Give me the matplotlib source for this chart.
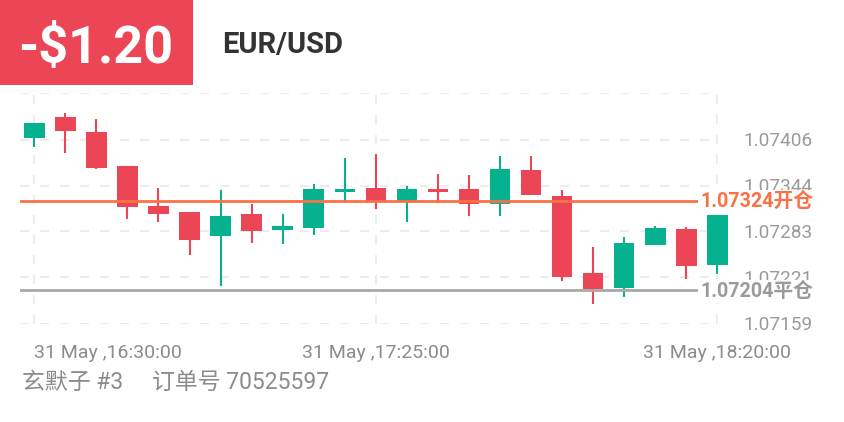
import matplotlib
matplotlib.use("Agg")
import matplotlib.pyplot as plt
import matplotlib.transforms as mtransforms
from matplotlib.patches import Rectangle

# ---- data (5-minute candles, 16:30 .. 18:20) ----
opens = [1.07408, 1.07436, 1.07416, 1.07370, 1.07317, 1.07309, 1.07277, 1.07306,
         1.07284, 1.07287, 1.07336, 1.07341, 1.07324, 1.07339, 1.07339, 1.07319,
         1.07365, 1.07330, 1.07227, 1.07207, 1.07265, 1.07286, 1.07238]
closes = [1.07428, 1.07417, 1.07368, 1.07316, 1.07306, 1.07271, 1.07303, 1.07283,
          1.07290, 1.07339, 1.07340, 1.07323, 1.07340, 1.07336, 1.07320, 1.07366,
          1.07331, 1.07221, 1.07205, 1.07267, 1.07287, 1.07237, 1.07305]
highs = [1.07428, 1.07441, 1.07433, 1.07370, 1.07341, 1.07309, 1.07338, 1.07319,
         1.07306, 1.07347, 1.07381, 1.07387, 1.07344, 1.07360, 1.07358, 1.07384,
         1.07384, 1.07338, 1.07262, 1.07275, 1.07290, 1.07289, 1.07305]
lows = [1.07396, 1.07388, 1.07367, 1.07299, 1.07295, 1.07251, 1.07210, 1.07267,
        1.07266, 1.07278, 1.07324, 1.07313, 1.07295, 1.07321, 1.07304, 1.07304,
        1.07331, 1.07216, 1.07185, 1.07195, 1.07264, 1.07219, 1.07225]

price_ticks = [1.07159, 1.07221, 1.07283, 1.07344, 1.07406, 1.07468]
price_labels = ["1.07159", "1.07221", "1.07283", "1.07344", "1.07406", ""]
time_idx = [0, 11, 22]
time_labels = ["31 May ,16:30:00", "31 May ,17:25:00", "31 May ,18:20:00"]

open_price = 1.07324
close_price = 1.07204
profit = "-$1.20"
symbol = "EUR/USD"
account = "玄默子 #3"
order = "订单号 70525597"

GREEN = "#05b18f"
RED = "#ec4656"
ORANGE = "#fb7146"
GRAY_LINE = "#a8a8a8"
GRID = "#ececec"
FONTS = ["Roboto", "Noto Sans CJK SC", "DejaVu Sans"]

W, H = 844, 422
fig = plt.figure(figsize=(W / 100, H / 100), dpi=100)


def fx(px):
    return px / W


def fy(py):
    return 1 - py / H


ax = fig.add_axes([fx(20), fy(323.7), fx(698), (323.7 - 93.3) / H])
ax.set_xlim(-0.4605, 22.02)
ax.set_ylim(price_ticks[0], price_ticks[-1])
for s in ax.spines.values():
    s.set_visible(False)
ax.set_yticks(price_ticks)
ax.set_xticks(time_idx)
ax.tick_params(length=0, labelleft=False, labelbottom=False)
ax.grid(True, color=GRID, lw=1.5, ls=(0, (4.3, 5.3)))
ax.set_axisbelow(True)

# candles
x = list(range(len(opens)))
cols = [GREEN if c >= o else RED for o, c in zip(opens, closes)]
ax.vlines(x, lows, highs, colors=cols, lw=1.5, zorder=3, clip_on=False)
heights = [max(abs(c - o), 0.000025) for o, c in zip(opens, closes)]
bottoms = [min(o, c) for o, c in zip(opens, closes)]
ax.bar(x, heights, bottom=bottoms, width=0.66, color=cols, zorder=4, clip_on=False)

# open / close price lines
ax.axhline(open_price, color=ORANGE, lw=2, zorder=5)
ax.axhline(close_price, color=GRAY_LINE, lw=2, zorder=5)

# right price labels
ytrans = mtransforms.blended_transform_factory(fig.transFigure, ax.transData)
ytrans = mtransforms.offset_copy(ytrans, fig=fig, y=-6.7, units="dots")
for v, lab in zip(price_ticks, price_labels):
    ax.text(fx(813), v, lab, transform=ytrans, ha="right", va="baseline",
            fontsize=13.7, color="#9a9a9a", family=FONTS, clip_on=False, zorder=6)

ax.text(fx(813), open_price, f"{open_price:.5f}开仓", transform=ytrans, ha="right",
        va="baseline", fontsize=14.2, fontweight="bold", color=ORANGE, family=FONTS,
        clip_on=False, zorder=7,
        bbox=dict(facecolor="white", edgecolor="none", pad=1.5))
ax.text(fx(813), close_price, f"{close_price:.5f}平仓", transform=ytrans, ha="right",
        va="baseline", fontsize=14.2, fontweight="bold", color="#9a9a9a", family=FONTS,
        clip_on=False, zorder=7,
        bbox=dict(facecolor="white", edgecolor="none", pad=1.5))

# time labels (first one clamped to the left edge)
xtrans = mtransforms.blended_transform_factory(ax.transData, fig.transFigure)
for i, (t, lab) in enumerate(zip(time_idx, time_labels)):
    ax.text(t, fy(357.7), lab, transform=xtrans, ha="left" if i == 0 else "center",
            va="baseline", fontsize=14, color="#8c8c8c", family=FONTS, clip_on=False)

# header
fig.patches.append(Rectangle((0, fy(85)), fx(193), 85 / H, transform=fig.transFigure,
                             facecolor=RED, edgecolor="none", zorder=0))
fig.text(fx(96), fy(63), profit, ha="center", va="baseline", fontsize=37.5,
         fontweight="bold", color="white", family=FONTS)
fig.text(fx(222), fy(53.3), symbol, ha="left", va="baseline", fontsize=21,
         fontweight="bold", color="#333333", family=FONTS)

# footer
fig.text(fx(21.5), fy(389.3), account, ha="left", va="baseline", fontsize=16.5,
         color="#8c8c8c", family=FONTS)
fig.text(fx(151.7), fy(389.3), order, ha="left", va="baseline", fontsize=16.5,
         color="#8c8c8c", family=FONTS)

fig.savefig("out.png", dpi=100)
